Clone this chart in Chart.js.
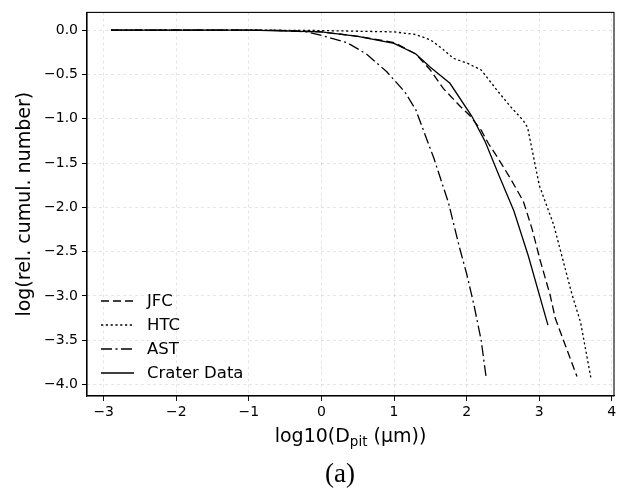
<!DOCTYPE html>
<html>
<head>
<meta charset="utf-8">
<script src="https://cdn.jsdelivr.net/npm/chart.js@4.4.0/dist/chart.umd.min.js"></script>
<style>
  html, body { margin: 0; padding: 0; background: #fff; }
  #wrap { position: relative; width: 632px; height: 495px; }
  #caption {
    position: absolute; left: 290px; width: 100px; top: 456px;
    text-align: center; font-family: "Liberation Serif", serif;
    font-size: 27px; line-height: 34px; color: #000;
  }
</style>
</head>
<body>
<div id="wrap">
  <canvas id="chart" width="632" height="495"></canvas>
  <div id="caption">(a)</div>
</div>
<script>
// ---- data ----
const xTicks = [-3, -2, -1, 0, 1, 2, 3, 4];
const yTicks = [-4.0, -3.5, -3.0, -2.5, -2.0, -1.5, -1.0, -0.5, 0.0];

const jfcX = [-2.9, -1.0, -0.5, 0.0, 0.5, 1.0, 1.3, 1.5, 1.68, 1.9, 2.05, 2.2, 2.3, 2.42, 2.6, 2.78, 2.9, 3.01, 3.15, 3.22, 3.52];
const jfcY = [0.0, 0.0, -0.005, -0.02, -0.07, -0.14, -0.27, -0.45, -0.66, -0.85, -0.97, -1.13, -1.28, -1.43, -1.67, -1.93, -2.24, -2.59, -2.99, -3.25, -3.91];

const htcX = [-2.9, -1.0, 0.0, 1.0, 1.3, 1.5, 1.65, 1.82, 2.0, 2.2, 2.42, 2.6, 2.78, 2.84, 3.0, 3.2, 3.45, 3.57, 3.71];
const htcY = [0.0, 0.0, -0.005, -0.02, -0.05, -0.11, -0.2, -0.32, -0.37, -0.45, -0.68, -0.86, -1.02, -1.1, -1.75, -2.2, -2.98, -3.3, -3.92];

const astX = [-2.9, -1.0, -0.5, -0.2, 0.0, 0.35, 0.62, 0.9, 1.15, 1.3, 1.55, 1.75, 1.9, 2.0, 2.1, 2.2, 2.27];
const astY = [0.0, 0.0, -0.005, -0.02, -0.06, -0.14, -0.27, -0.47, -0.7, -0.9, -1.45, -1.95, -2.45, -2.75, -3.1, -3.5, -3.93];

const craterX = [-2.9, -1.0, 0.0, 0.5, 1.0, 1.3, 1.5, 1.77, 2.07, 2.25, 2.45, 2.65, 2.85, 3.12];
const craterY = [0.0, 0.0, -0.02, -0.07, -0.15, -0.27, -0.42, -0.6, -0.97, -1.25, -1.65, -2.04, -2.55, -3.33];

const seriesNames = ["JFC", "HTC", "AST", "Crater Data"];

function toPoints(xs, ys) {
  return xs.map((x, i) => ({ x: x, y: ys[i] }));
}

function minusSign(s) {
  return s.replace("-", "\u2212");
}

Chart.defaults.font.family = "'DejaVu Sans', sans-serif";
Chart.defaults.color = "#000";

// frame round the plot area
const framePlugin = {
  id: "frame",
  afterDraw(chart) {
    const { ctx, chartArea: a } = chart;
    ctx.save();
    ctx.setLineDash([]);
    ctx.strokeStyle = "#000";
    ctx.lineWidth = 1.1;
    ctx.strokeRect(a.left, a.top, a.right - a.left, a.bottom - a.top);
    ctx.restore();
  }
};

// legend inside the lower left corner, no box
const legendPlugin = {
  id: "innerLegend",
  afterDraw(chart) {
    const { ctx, chartArea: a } = chart;
    const sets = chart.data.datasets;
    ctx.save();
    ctx.font = "16.5px 'DejaVu Sans'";
    ctx.textBaseline = "middle";
    ctx.textAlign = "left";
    sets.forEach((ds, i) => {
      const y = a.bottom - 23 - (sets.length - 1 - i) * 24;
      ctx.beginPath();
      ctx.setLineDash(ds.borderDash || []);
      ctx.strokeStyle = ds.borderColor;
      ctx.lineWidth = ds.borderWidth;
      ctx.moveTo(a.left + 14, y);
      ctx.lineTo(a.left + 47, y);
      ctx.stroke();
      ctx.setLineDash([]);
      ctx.fillStyle = "#000";
      ctx.fillText(ds.label, a.left + 60, y + 1);
    });
    ctx.restore();
  }
};

// x axis title with the subscript
const xTitlePlugin = {
  id: "xTitle",
  afterDraw(chart) {
    const { ctx, chartArea: a } = chart;
    const parts = [
      { t: "log10(D", size: 19, dy: 0 },
      { t: "pit", size: 13.5, dy: 4 },
      { t: " (\u00b5m))", size: 19, dy: 0 }
    ];
    ctx.save();
    ctx.fillStyle = "#000";
    ctx.textBaseline = "alphabetic";
    ctx.textAlign = "left";
    let total = 0;
    parts.forEach(p => {
      ctx.font = p.size + "px 'DejaVu Sans'";
      p.w = ctx.measureText(p.t).width;
      total += p.w;
    });
    let x = (a.left + a.right) / 2 - total / 2;
    const base = 442;
    parts.forEach(p => {
      ctx.font = p.size + "px 'DejaVu Sans'";
      ctx.fillText(p.t, x, base + p.dy);
      x += p.w;
    });
    ctx.restore();
  }
};

const lineStyle = { borderColor: "#000", borderWidth: 1.3, pointRadius: 0, fill: false, tension: 0 };

const gridOpts = {
  color: "rgba(0,0,0,0.1)",
  lineWidth: 1,
  tickColor: "#000",
  tickLength: 5,
  tickWidth: 1,
  tickBorderDash: [1, 0]
};

const borderOpts = { display: true, color: "#000", width: 1.1, dash: [3, 3] };

new Chart(document.getElementById("chart"), {
  type: "line",
  data: {
    datasets: [
      Object.assign({ label: seriesNames[0], data: toPoints(jfcX, jfcY), borderDash: [8, 4] }, lineStyle),
      Object.assign({ label: seriesNames[1], data: toPoints(htcX, htcY), borderDash: [2.2, 2.6] }, lineStyle),
      Object.assign({ label: seriesNames[2], data: toPoints(astX, astY), borderDash: [11, 3.5, 2, 3.5] }, lineStyle),
      Object.assign({ label: seriesNames[3], data: toPoints(craterX, craterY), borderDash: [] }, lineStyle)
    ]
  },
  plugins: [framePlugin, legendPlugin, xTitlePlugin],
  options: {
    responsive: false,
    animation: false,
    layout: { padding: { left: 0, right: 18, top: 3, bottom: 0 } },
    plugins: {
      legend: { display: false },
      tooltip: { enabled: false }
    },
    scales: {
      x: {
        type: "linear",
        min: -3.23,
        max: 4.03,
        afterBuildTicks: ax => { ax.ticks = xTicks.map(v => ({ value: v })); },
        afterFit: s => { s.height = 99; },
        ticks: {
          font: { size: 14 },
          color: "#000",
          padding: 3,
          maxRotation: 0,
          autoSkip: false,
          callback: v => minusSign(String(v))
        },
        grid: gridOpts,
        border: borderOpts,
        title: { display: false }
      },
      y: {
        type: "linear",
        min: -4.13,
        max: 0.2,
        afterBuildTicks: ax => { ax.ticks = yTicks.map(v => ({ value: v })); },
        afterFit: s => { s.width = 87; },
        ticks: {
          font: { size: 14 },
          color: "#000",
          padding: 4,
          autoSkip: false,
          callback: v => minusSign(Number(v).toFixed(1))
        },
        grid: gridOpts,
        border: borderOpts,
        title: {
          display: true,
          text: "log(rel. cumul. number)",
          font: { size: 19 },
          color: "#000",
          padding: { top: 14, bottom: 0 }
        }
      }
    }
  }
});
</script>
</body>
</html>
